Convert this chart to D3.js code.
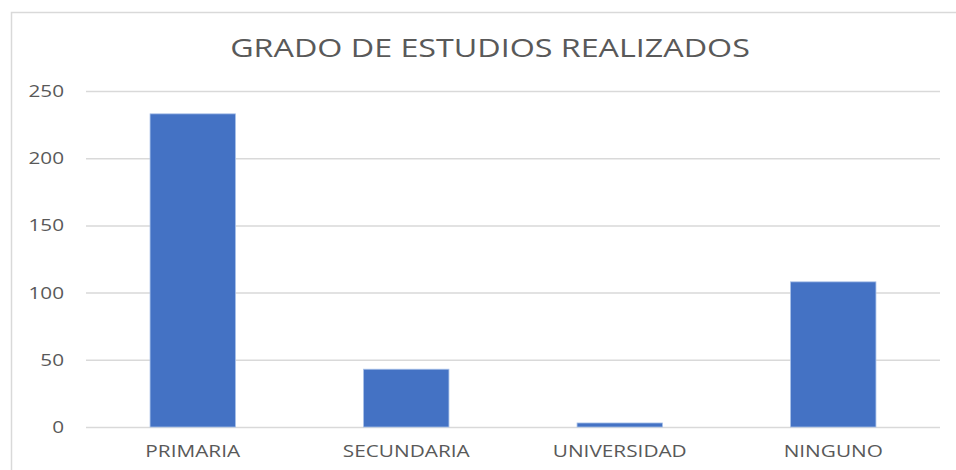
<!DOCTYPE html>
<html>
<head>
<meta charset="utf-8">
<script src="https://cdn.jsdelivr.net/npm/d3@7"></script>
<style>
  html, body { margin: 0; padding: 0; background: #fff; }
  text { font-family: "Open Sans", "Liberation Sans", sans-serif; }
</style>
</head>
<body>
<div id="container"></div>
<script>
const width = 956, height = 470;

// --- Data ---
const categories = ["PRIMARIA", "SECUNDARIA", "UNIVERSIDAD", "NINGUNO"];
const values = [233, 43, 3, 108];
const yTicks = [0, 50, 100, 150, 200, 250];

const margin = { top: 91, right: 16, bottom: 43, left: 86 };
const iw = width - margin.left - margin.right;
const ih = height - margin.top - margin.bottom;

// the source picture is stretched horizontally, so text is too
const sxTitle = 1.29, sxCat = 1.3, sxTick = 1.22;

const svg = d3.select("#container")
  .append("svg").attr("width", width).attr("height", height);

// chart frame
svg.append("rect")
  .attr("x", 11.5).attr("y", 12.5)
  .attr("width", width).attr("height", height)
  .attr("fill", "none")
  .attr("stroke", "#d9d9d9")
  .attr("stroke-width", 1.5);

const g = svg.append("g").attr("transform", `translate(${margin.left},${margin.top})`);

const x = d3.scaleBand().domain(categories).range([0, iw]).paddingInner(0.6).paddingOuter(0.3);
const y = d3.scaleLinear().domain([0, 250]).range([ih, 0]);

// --- grid ---
g.append("g")
  .call(d3.axisLeft(y).tickValues(yTicks).tickSize(-iw).tickFormat(""))
  .call((a) => a.select(".domain").remove())
  .call((a) => a.selectAll("line").attr("stroke", "#d9d9d9").attr("stroke-width", 1.5));

// --- bars ---
g.selectAll(".bar").data(values).join("rect")
  .attr("class", "bar")
  .attr("x", (d, i) => x(categories[i]))
  .attr("y", (d) => y(d))
  .attr("width", x.bandwidth())
  .attr("height", (d) => ih - y(d))
  .attr("fill", "#4472c4")
  .attr("stroke", "#a9c0e8")
  .attr("stroke-width", 0.8);

// --- y labels ---
const yAxis = g.append("g")
  .call(d3.axisLeft(y).tickValues(yTicks).tickSize(0).tickPadding(22));
yAxis.select(".domain").remove();
yAxis.selectAll("text")
  .attr("x", -22 / sxTick)
  .attr("transform", `scale(${sxTick},1)`)
  .attr("fill", "#595959")
  .style("font-size", "17px")
  .style("font-family", "'Open Sans', sans-serif");

// --- x labels ---
const xAxis = g.append("g")
  .attr("transform", `translate(0,${ih})`)
  .call(d3.axisBottom(x).tickSize(0).tickPadding(19));
xAxis.select(".domain").remove();
xAxis.selectAll("text")
  .attr("transform", `scale(${sxCat},1)`)
  .attr("fill", "#595959")
  .style("font-size", "16px")
  .style("font-family", "'Open Sans', sans-serif");

// --- title ---
svg.append("text")
  .attr("transform", `translate(490,57) scale(${sxTitle},1)`)
  .attr("text-anchor", "middle")
  .attr("fill", "#595959")
  .style("font-size", "25px")
  .text("GRADO DE ESTUDIOS REALIZADOS");
</script>
</body>
</html>
